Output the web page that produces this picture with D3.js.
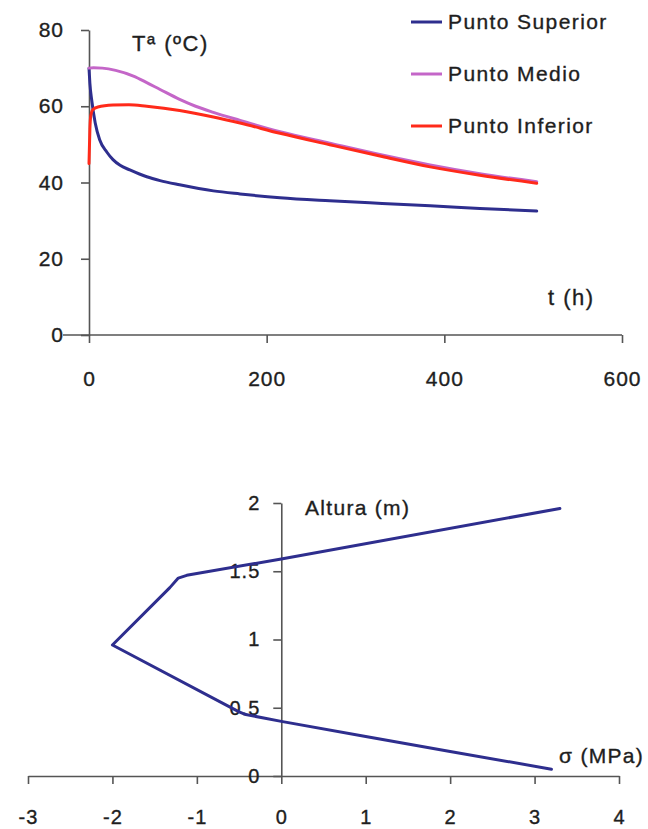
<!DOCTYPE html>
<html><head><meta charset="utf-8">
<script src="https://cdn.jsdelivr.net/npm/d3@7"></script>
<style>
html,body{margin:0;padding:0;background:#fff;}
svg{display:block;}
text{font-family:"Liberation Sans",Arial,sans-serif;fill:#1e1e1e;stroke:#1e1e1e;stroke-width:0.35px;}
</style></head>
<body>
<svg id="c" width="648" height="829"></svg>
<script>
// ---- Top chart data: temperature vs time ----
const seriesNames = ["Punto Superior", "Punto Medio", "Punto Inferior"];
const seriesColors = ["#2e2e8e", "#c466c8", "#ff2a1a"];
const supT = [0, 1, 3, 7, 12, 20, 27, 35, 46, 65, 80, 102, 140, 170, 215, 271, 330, 384, 440, 504];
const supV = [70, 66, 61.7, 55.6, 51.2, 48, 46, 44.5, 43.3, 41.5, 40.5, 39.4, 37.8, 37.0, 36.0, 35.2, 34.5, 33.9, 33.2, 32.5];
const medT = [0, 5, 15, 30, 50, 65, 80, 102, 120, 140, 170, 215, 271, 330, 384, 440, 504];
const medV = [70, 70.1, 70, 69.4, 67.9, 66.2, 64.4, 61.8, 60.0, 58.4, 56.3, 53.3, 50.3, 47.2, 44.6, 42.3, 40.2];
const infT = [0, 1, 2, 4, 10, 27, 45, 65, 102, 140, 170, 215, 271, 330, 384, 440, 504];
const infV = [45, 54, 57.5, 59, 59.8, 60.3, 60.4, 60.0, 58.9, 57.2, 55.6, 52.9, 49.9, 46.8, 44.1, 41.9, 39.8];
const topXTicks = [0, 200, 400, 600];
const topYTicks = [0, 20, 40, 60, 80];
const topYTitle = "Tª (ºC)";
const topXTitle = "t (h)";

// ---- Bottom chart data: stress profile vs height ----
const sigma = [3.3, 0, -1.12, -1.22, -1.32, -2.0, -0.5, -0.42, 0, 1, 2, 3.2];
const altura = [1.96, 1.59, 1.47, 1.45, 1.38, 0.96, 0.47, 0.45, 0.40, 0.29, 0.18, 0.05];
const botXTicks = [-3, -2, -1, 0, 1, 2, 3, 4];
const botYTicks = [0, 0.5, 1, 1.5, 2];
const botYTitle = "Altura (m)";
const botXTitle = "σ (MPa)";

const svg = d3.select("#c");
const axisColor = "#555";
const FS = 21;

// ===== Top chart =====
const x1 = d3.scaleLinear().domain([0, 600]).range([89, 622]);
const y1 = d3.scaleLinear().domain([0, 80]).range([335, 30]);
const gTop = svg.append("g");

const xAx1 = gTop.append("g").attr("transform", `translate(0,${y1(0)})`)
  .call(d3.axisBottom(x1).tickValues(topXTicks).tickSize(8).tickSizeOuter(0).tickPadding(28).tickFormat(d3.format("d")));
const yAx1 = gTop.append("g").attr("transform", `translate(${x1(0)},0)`)
  .call(d3.axisLeft(y1).tickValues(topYTicks).tickSize(8).tickSizeOuter(0).tickPadding(17).tickFormat(d3.format("d")));
[xAx1, yAx1].forEach(a => {
  a.select(".domain").attr("stroke", axisColor).attr("stroke-width", 1.6);
  a.selectAll(".tick line").attr("stroke", axisColor).attr("stroke-width", 1.6);
  a.selectAll(".tick text").attr("font-size", FS).attr("fill", "#1e1e1e").attr("font-family", "Liberation Sans, Arial, sans-serif").attr("letter-spacing", 1);
});
xAx1.select(".domain").attr("d", `M${x1(0) - 26},0H${x1(600)}`);

const topSeries = [
  {t: supT, v: supV},
  {t: medT, v: medV},
  {t: infT, v: infV}
];
const line1 = d3.line().x(d => x1(d[0])).y(d => y1(d[1])).curve(d3.curveMonotoneX);
topSeries.forEach((s, i) => {
  const pts = s.t.map((t, j) => [t, s.v[j]]);
  gTop.append("path").attr("d", line1(pts)).attr("fill", "none")
    .attr("stroke", seriesColors[i]).attr("stroke-width", 3).attr("stroke-linejoin", "round").attr("stroke-linecap", "round");
});
// legend
const leg = gTop.append("g");
seriesNames.forEach((n, i) => {
  const yy = [22, 74, 126][i];
  leg.append("line").attr("x1", 411).attr("x2", 442).attr("y1", yy).attr("y2", yy)
    .attr("stroke", seriesColors[i]).attr("stroke-width", 3);
  leg.append("text").attr("x", 448).attr("y", yy).attr("dy", "0.35em").attr("font-size", FS).attr("letter-spacing", 1.4).text(n);
});
gTop.append("text").attr("x", 132).attr("y", 43).attr("dy", "0.35em").attr("font-size", 22).attr("letter-spacing", 1.5).text(topYTitle);
gTop.append("text").attr("x", 548).attr("y", 297).attr("dy", "0.35em").attr("font-size", 22).attr("letter-spacing", 1.5).text(topXTitle);

// ===== Bottom chart =====
const x2 = d3.scaleLinear().domain([-3, 4]).range([28, 619]);
const y2 = d3.scaleLinear().domain([0, 2]).range([776, 503]);
const gBot = svg.append("g");
const xAx2 = gBot.append("g").attr("transform", `translate(0,${y2(0)})`)
  .call(d3.axisBottom(x2).tickValues(botXTicks).tickSize(8).tickSizeOuter(0).tickPadding(26).tickFormat(d3.format("d")));
const yAx2 = gBot.append("g").attr("transform", `translate(${x2(0)},0)`)
  .call(d3.axisLeft(y2).tickValues(botYTicks).tickSize(8).tickSizeOuter(0).tickPadding(13).tickFormat(d => String(d)));
[xAx2, yAx2].forEach(a => {
  a.select(".domain").attr("stroke", axisColor).attr("stroke-width", 1.6);
  a.selectAll(".tick line").attr("stroke", axisColor).attr("stroke-width", 1.6);
  a.selectAll(".tick text").attr("font-size", FS - 1).attr("fill", "#1e1e1e").attr("font-family", "Liberation Sans, Arial, sans-serif").attr("letter-spacing", 1);
});
xAx2.selectAll(".tick text").text(d => d < 0 ? "-" + Math.abs(d) : d);

const line2 = d3.line().x(d => x2(d[0])).y(d => y2(d[1])).curve(d3.curveLinear);
gBot.append("path").attr("d", line2(sigma.map((s, i) => [s, altura[i]])))
  .attr("fill", "none").attr("stroke", seriesColors[0]).attr("stroke-width", 3)
  .attr("stroke-linejoin", "round").attr("stroke-linecap", "round");
gBot.append("text").attr("x", 305).attr("y", 508).attr("dy", "0.35em").attr("font-size", FS).attr("letter-spacing", 1.3).text(botYTitle);
gBot.append("text").attr("x", 559).attr("y", 756).attr("dy", "0.35em").attr("font-size", FS).attr("letter-spacing", 1.3).text(botXTitle);
</script>
</body></html>
